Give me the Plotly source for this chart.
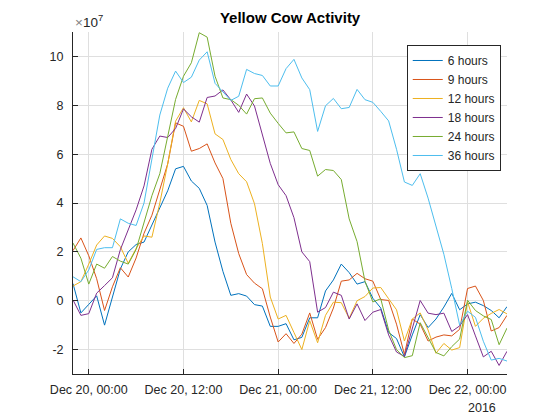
import pandas as pd
import plotly.graph_objects as go

# hourly samples, values in units of 1e7
times = pd.date_range("2016-12-19 22:00", periods=56, freq="h")
scale = 1e7

hours_6 = [0.7, -0.5, -0.15, 0.2, -1.0, 0.2, 1.3, 2.0, 2.3, 2.4,
           3.1, 3.8, 4.5, 5.4, 5.5, 4.9, 4.6, 3.9, 2.4, 1.2,
           0.22, 0.29, 0.19, -0.16, -0.22, -1.05, -1.05, -0.94, -1.6, -1.5,
           -0.7, -0.7, 0.4, 0.85, 1.5, 1.15, 0.68, 0.78, 0.1, -0.3,
           -1.3, -1.55, -2.3, -1.4, -0.57, -1.1, -0.75, -0.26, 0.3, -0.37,
           -0.13, -0.06, -0.2, -0.4, -0.7, -0.24]
hours_9 = [2.05, 2.57, 1.84, 0.9, -0.4, 0.57, 1.35, 0.97, 1.75, 2.76,
           3.5, 4.6, 5.6, 7.28, 7.14, 6.12, 6.23, 6.42, 5.64, 5.0,
           3.17, 1.93, 1.07, 0.72, 0.49, -0.67, -1.69, -1.35, -1.75, -1.37,
           -0.5, -1.58, -1.1, -0.3, 0.8, 0.85, 1.12, 0.9, 0.8, 0.05,
           0.01, -0.96, -2.2, -0.75, -0.96, -1.65, -1.49, -1.4, -1.44, -1.17,
           0.5, 0.6, 0.01, -1.24, -1.1, -0.6]
hours_12 = [0.6, 0.78, 1.5, 2.28, 2.65, 2.55, 2.21, 1.53, 2.14, 2.65,
            2.6, 4.0, 5.6, 7.35, 7.9, 7.32, 8.2, 8.06, 6.83, 6.6,
            5.78, 5.2, 4.87, 3.97, 2.34, 0.15, -0.75, -0.6, -1.3, -2.0,
            -0.82, -1.72, -0.6, -0.06, -0.08, -0.72, 0.0, 0.17, 0.52, 0.54,
            0.08, -0.37, -1.65, -0.75, -0.5, -1.2, -2.15, -1.75, -2.02, -1.92,
            -0.05, -1.05, -0.72, -0.52, -0.36, -0.54]
hours_18 = [0.03, -0.6, -0.53, 0.31, 0.62, 0.94, 2.09, 2.9, 3.72, 4.7,
            6.2, 6.74, 6.68, 7.05, 7.85, 7.53, 7.31, 8.32, 8.38, 8.63,
            8.22, 7.71, 8.46, 7.97, 6.75, 5.62, 4.75, 4.3, 3.4, 2.0,
            1.6, -0.47, -0.28, 0.35, 0.22, -0.75, -0.13, -0.81, -0.47, -0.36,
            -1.4, -2.1, -2.28, -1.1, 0.01, -0.51, -0.57, -0.51, -1.26, -1.03,
            -0.57, -1.44, -2.3, -2.07, -2.65, -2.07]
hours_24 = [2.36, 1.74, 0.68, 1.5, 1.33, 1.81, 1.62, 1.5, 2.1, 3.24,
            4.3, 5.2, 6.67, 8.24, 9.19, 9.74, 10.97, 10.79, 9.19, 8.3,
            8.23, 8.0, 7.64, 8.27, 8.3, 7.68, 7.26, 6.87, 6.91, 6.23,
            6.15, 5.1, 5.37, 5.33, 4.96, 3.35, 2.42, 0.8, -0.05, 0.08,
            -1.2, -2.0, -2.33, -2.25, -0.9, -1.5, -2.12, -2.26, -1.88, -1.57,
            0.02, -0.4, -0.62, -0.77, -1.8, -1.12]
hours_36 = [0.98, 0.78, 1.26, 2.1, 2.17, 2.17, 3.35, 3.17, 3.08, 4.0,
            5.8, 7.6, 8.7, 9.4, 8.93, 9.15, 9.85, 10.19, 8.9, 8.55,
            8.2, 8.37, 9.47, 9.3, 9.22, 8.79, 8.79, 9.5, 9.88, 9.12,
            8.64, 6.93, 7.98, 8.28, 7.86, 7.91, 8.65, 8.23, 8.12, 7.75,
            7.36, 6.2, 4.86, 4.72, 5.2, 4.2, 3.0, 1.9, 0.5, -1.0,
            -0.43, -0.68, -1.66, -2.43, -2.36, -2.47]

names = ["6 hours", "9 hours", "12 hours", "18 hours", "24 hours", "36 hours"]
series = [hours_6, hours_9, hours_12, hours_18, hours_24, hours_36]
colors = ["#0072BD", "#D95319", "#EDB120", "#7E2F8E", "#77AC30", "#4DBEEE"]

y_ticks = [-2, 0, 2, 4, 6, 8, 10]
axis_col = "#262626"
font = "Liberation Sans, Arial, Helvetica, sans-serif"

fig = go.Figure()
for name, vals, col in zip(names, series, colors):
    fig.add_trace(go.Scatter(x=times, y=[v * scale for v in vals], name=name,
                             mode="lines", line=dict(color=col, width=1)))

# page body has an 8px margin, so the figure is a bit smaller than the window
fig.update_layout(
    width=552, height=412,
    margin=dict(l=65, r=53, t=24, b=46),
    paper_bgcolor="white", plot_bgcolor="white",
    font=dict(family=font, size=12.5, color=axis_col),
    title=dict(text="<b>Yellow Cow Activity</b>", x=0.511, xanchor="center",
               y=0.976, yanchor="middle", font=dict(size=15, color="black")),
    legend=dict(x=0.769, y=0.962, xanchor="left", yanchor="top",
                bgcolor="white", bordercolor=axis_col, borderwidth=1,
                font=dict(size=12, color=axis_col)),
    showlegend=True,
)
fig.update_xaxes(
    range=[times[0], times[-1]], tickformat="%b %d, %H:%M",
    tick0="2016-12-20 00:00", dtick=12 * 3600 * 1000,
    showgrid=True, gridcolor="#dfdfdf", gridwidth=1,
    showline=True, linecolor=axis_col, linewidth=1,
    ticks="inside", ticklen=5, tickcolor=axis_col,
    ticklabelstandoff=4, zeroline=False,
)
fig.update_yaxes(
    range=[-3 * scale, 11 * scale],
    tickvals=[t * scale for t in y_ticks], ticktext=[str(t) for t in y_ticks],
    showgrid=True, gridcolor="#dfdfdf", gridwidth=1,
    showline=True, linecolor=axis_col, linewidth=1,
    ticks="inside", ticklen=5, tickcolor=axis_col,
    ticklabelstandoff=6, zeroline=False,
)

fig.add_annotation(text="<span style='color:#808080'>×</span>10<sup>7</sup>",
                   xref="paper", yref="paper",
                   x=0, y=1, xanchor="left", yanchor="bottom", showarrow=False,
                   font=dict(size=13.5, color=axis_col))
fig.add_annotation(text="2016", xref="paper", yref="paper",
                   x=0.942, y=-0.099, xanchor="center", yanchor="middle",
                   showarrow=False, font=dict(size=12.5, color=axis_col))

fig.write_html("out.html")
